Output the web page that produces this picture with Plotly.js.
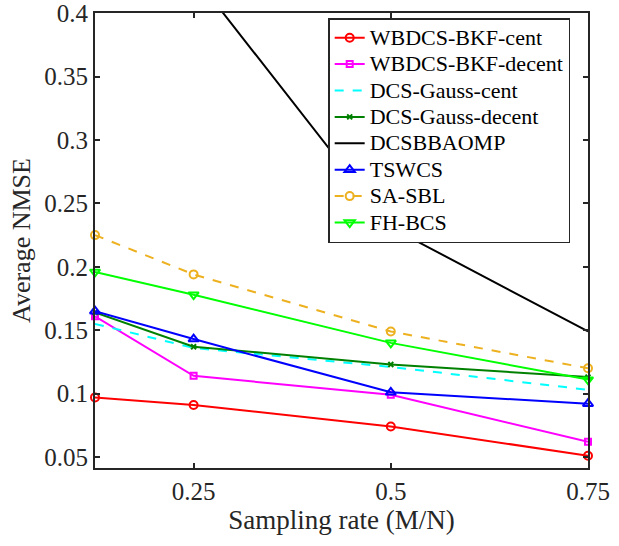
<!DOCTYPE html>
<html>
<head>
<meta charset="utf-8">
<script src="https://cdn.plot.ly/plotly-3.0.1.min.js"></script>
<style>html,body{margin:0;padding:0;background:#fff;}#chart{width:619px;height:546px;}</style>
</head>
<body>
<div id="chart"></div>
<script>
const samplingRate = [0.125, 0.25, 0.5, 0.75];
const xTickVals = [0.25, 0.5, 0.75];
const xTickText = ["0.25", "0.5", "0.75"];
const yTickVals = [0.05, 0.1, 0.15, 0.2, 0.25, 0.3, 0.35, 0.4];
const yTickText = ["0.05", "0.1", "0.15", "0.2", "0.25", "0.3", "0.35", "0.4"];

const wbdcsBkfCent   = [0.097, 0.091, 0.074, 0.051];
const wbdcsBkfDecent = [0.161, 0.114, 0.099, 0.062];
const dcsGaussCent   = [0.155, 0.136, 0.121, 0.103];
const dcsGaussDecent = [0.164, 0.137, 0.123, 0.113];
const dcsbbaomp      = [0.52, 0.43, 0.231, 0.149];
const tswcs          = [0.165, 0.143, 0.101, 0.092];
const saSbl          = [0.225, 0.194, 0.149, 0.120];
const fhBcs          = [0.196, 0.178, 0.140, 0.111];

const names = ["WBDCS-BKF-cent","WBDCS-BKF-decent","DCS-Gauss-cent","DCS-Gauss-decent","DCSBBAOMP","TSWCS","SA-SBL","FH-BCS"];
const series = [wbdcsBkfCent, wbdcsBkfDecent, dcsGaussCent, dcsGaussDecent, dcsbbaomp, tswcs, saSbl, fhBcs];
const colors = ["#ff0000","#ff00ff","#00ffff","#008000","#000000","#0000ff","#EDB120","#00ff00"];
const dashes = ["solid","solid","dash","solid","solid","solid","dash","solid"];
const symbols = ["circle-open","square-open",null,"x-thin-open",null,"triangle-up-open","circle-open","triangle-down-open"];
const sizes = [8,6,0,5,0,9,8,9];

const traces = series.map((ys, i) => {
  const t = {
    x: samplingRate, y: ys, type: "scatter",
    name: '<span style="font-size:22px">' + names[i] + '</span>',
    mode: (symbols[i] ? "lines+markers" : "lines"),
    line: {color: colors[i], width: 2, dash: dashes[i]},
    cliponaxis: false
  };
  if (symbols[i]) t.marker = {symbol: symbols[i], size: sizes[i], color: colors[i], line: {color: colors[i], width: 2}};
  return t;
});

const serif = "Liberation Serif";
const layout = {
  width: 619, height: 546,
  margin: {l: 95, r: 31, t: 13, b: 78},
  paper_bgcolor: "#fff", plot_bgcolor: "#fff",
  font: {family: serif, color: "#262626"},
  showlegend: true,
  legend: {
    x: 0.473, y: 0.989, xanchor: "left", yanchor: "top",
    bgcolor: "#fff", bordercolor: "#262626", borderwidth: 1.5,
    font: {family: serif, size: 18, color: "#000"}
  },
  xaxis: {
    range: [0.125, 0.75], tickvals: xTickVals, ticktext: xTickText,
    ticks: "inside", ticklen: 5, tickwidth: 2, tickcolor: "#262626",
    showline: true, linecolor: "#262626", linewidth: 2, mirror: "ticks",
    showgrid: false, zeroline: false,
    tickfont: {family: serif, size: 25, color: "#262626"},
    title: {text: "Sampling rate (M/N)", font: {family: serif, size: 27, color: "#262626"}, standoff: 6}
  },
  yaxis: {
    range: [0.0413, 0.4002], tickvals: yTickVals, ticktext: yTickText,
    ticks: "inside", ticklen: 5, tickwidth: 2, tickcolor: "#262626",
    showline: true, linecolor: "#262626", linewidth: 2, mirror: "ticks",
    showgrid: false, zeroline: false,
    tickfont: {family: serif, size: 25, color: "#262626"},
    title: {text: "Average NMSE", font: {family: serif, size: 26, color: "#262626"}, standoff: 6}
  }
};
Plotly.newPlot("chart", traces, layout, {displayModeBar: false, staticPlot: true});
</script>
</body>
</html>
